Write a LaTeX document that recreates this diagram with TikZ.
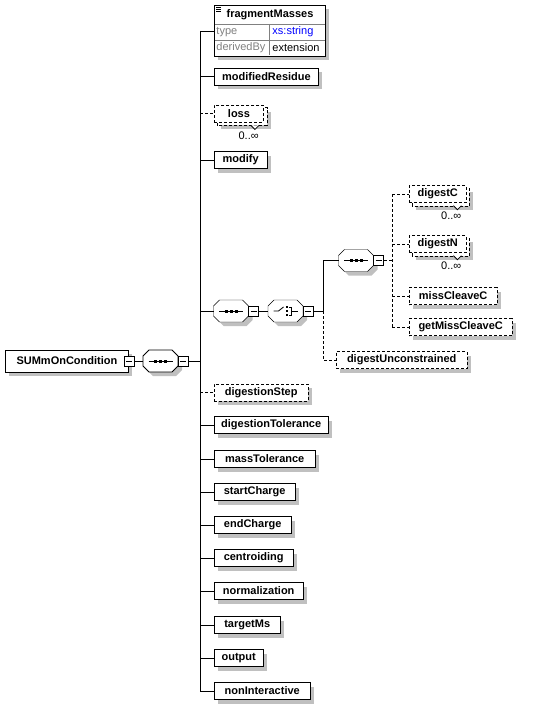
\documentclass[tikz,border=0pt]{standalone}
\usepackage{fontspec}
\setmainfont{Liberation Sans}
\usetikzlibrary{shadows,backgrounds,calc}
\definecolor{shadowgray}{RGB}{192,192,192}
\definecolor{labgray}{RGB}{128,128,128}
\newcommand\multdeco[1]{%
  \begin{pgfonlayer}{background}
    \fill[shadowgray] ($(#1.north west)+(7,7)$) rectangle ($(#1.south east)+(7,7)$);
    \draw[dsh,fill=white] ($(#1.north west)+(3,3)$) rectangle ($(#1.south east)+(3,3)$);
  \end{pgfonlayer}
  \draw[fill=white,line width=0.8pt] ($(#1.south east)+(-13,3)$) -- ++(4,4) -- ++(4,-4);
  \node[anchor=east,inner sep=0pt] (#1-n) at ($(#1.south east)+(-5,13)$) {0..∞};
}
\begin{document}
\begin{tikzpicture}[x=1pt,y=-1pt,line width=0.9pt,
  every node/.style={font=\fontsize{11}{13}\selectfont},
  dsh/.style={dash pattern=on 3pt off 2pt},
  shad/.style={drop shadow={shadow xshift=4pt,shadow yshift=-4pt,fill=shadowgray,opacity=1}},
  elem/.style={draw,fill=white,shad,anchor=west,minimum height=17pt,inner sep=0pt,
    font=\fontsize{11}{13}\selectfont\bfseries},
  opt/.style={elem,dsh},
  multi/.style={draw,fill=white,dsh,anchor=west,minimum height=17pt,inner sep=0pt,
    font=\fontsize{11}{13}\selectfont\bfseries},
  minus/.style={draw,fill=white,minimum size=10pt,inner sep=0pt,line width=0.8pt,
    path picture={\draw[line width=0.8pt] ([xshift=2pt]path picture bounding box.west) -- ([xshift=-2pt]path picture bounding box.east);}},
  seqcon/.pic={
    \fill[shadowgray,shift={(4,4)}] (-11.5,-11) -- (11.5,-11) -- (17.5,-5) -- (17.5,5) -- (11.5,11) -- (-11.5,11) -- (-17.5,5) -- (-17.5,-5) -- cycle;
    \draw[fill=white] (-11.5,-11) -- (11.5,-11) -- (17.5,-5) -- (17.5,5) -- (11.5,11) -- (-11.5,11) -- (-17.5,5) -- (-17.5,-5) -- cycle;
    \draw (-12,0) -- (12,0);
    \fill (-6.5,-1.5) rectangle (-3.5,1.5);
    \fill (-1.5,-1.5) rectangle (1.5,1.5);
    \fill (3.5,-1.5) rectangle (6.5,1.5);
    \coordinate (-w) at (-17.5,0);
    \node[minus] (-m) at (22.5,0) {};
  },
  choicecon/.pic={
    \fill[shadowgray,shift={(4,4)}] (-11.5,-11) -- (11.5,-11) -- (17.5,-5) -- (17.5,5) -- (11.5,11) -- (-11.5,11) -- (-17.5,5) -- (-17.5,-5) -- cycle;
    \draw[fill=white] (-11.5,-11) -- (11.5,-11) -- (17.5,-5) -- (17.5,5) -- (11.5,11) -- (-11.5,11) -- (-17.5,5) -- (-17.5,-5) -- cycle;
    \draw[line width=0.8pt] (-12,0) -- (-7,0) -- (-2,-4);
    \fill (0,-5) rectangle (2.5,-3);
    \fill (0,-1) rectangle (2.5,1);
    \fill (0,3) rectangle (2.5,5);
    \draw[line width=0.8pt] (3.5,-4) -- (6,-4) -- (6,4) -- (3.5,4) (6,0) -- (12,0);
    \coordinate (-w) at (-17.5,0);
    \node[minus] (-m) at (22.5,0) {};
  }
]
\useasboundingbox (0,0) rectangle (550,706);

% root
\node[elem,minimum width=123pt,minimum height=22pt] (sum) at (5,361) {SUMmOnCondition};
\node[minus] (sum-m) at (sum.east) {};
\pic (s1) at (160.5,361) {seqcon};
\coordinate (bus) at (200,361);

% fragmentMasses
\node[draw,fill=white,shad,minimum width=111pt,minimum height=51pt,inner sep=0pt,anchor=north west] (fm) at (214,5) {};
\draw[labgray,line width=0.8pt] (214.5,24) -- (324.5,24) (214.5,40) -- (324.5,40) (269,24) -- (269,55.5);
\draw[line width=0.6pt] (216,7) -- (221,7) (216,9) -- (221,9) (216,11) -- (221,11);
\node[font=\fontsize{11}{13}\selectfont\bfseries,inner sep=0pt] (fmt) at (270,15) {fragmentMasses};
\node[anchor=west,inner sep=1pt,text=labgray] (fty) at (215,32) {type};
\node[anchor=west,inner sep=1pt,text=blue] (ftv) at (271,32) {xs:string};
\node[anchor=west,inner sep=1pt,text=labgray] (fdb) at (215,48) {derivedBy};
\node[anchor=west,inner sep=1pt] (fdv) at (271,48) {extension};

% main children
\node[elem,minimum width=104pt] (mr) at (214,76.5) {modifiedResidue};
\node[multi,minimum width=49pt] (loss) at (214,113.5) {loss};
\multdeco{loss}
\node[elem,minimum width=53pt] (mo) at (214,160) {modify};
\pic (s2) at (231,311) {seqcon};
\pic (ch) at (285.5,311) {choicecon};
\node[opt,minimum width=94pt] (ds) at (214,392.5) {digestionStep};
\node[elem,minimum width=114pt] (dt) at (214,425) {digestionTolerance};
\node[elem,minimum width=101pt] (mt) at (214,459) {massTolerance};
\node[elem,minimum width=81pt] (sc) at (214,492) {startCharge};
\node[elem,minimum width=77pt] (ec) at (214,525) {endCharge};
\node[elem,minimum width=79pt] (ce) at (214,558) {centroiding};
\node[elem,minimum width=89pt] (no) at (214,591) {normalization};
\node[elem,minimum width=66pt] (tm) at (214,625) {targetMs};
\node[elem,minimum width=49pt] (ou) at (214,658) {output};
\node[elem,minimum width=96pt] (ni) at (214,691) {nonInteractive};

% choice children
\pic (s3) at (356,260.5) {seqcon};
\node[opt,minimum width=131pt] (du) at (336,360) {digestUnconstrained};
\node[multi,minimum width=57pt] (dc) at (409,194) {digestC};
\multdeco{dc}
\node[multi,minimum width=57pt] (dn) at (409,244) {digestN};
\multdeco{dn}
\node[opt,minimum width=88pt] (mc) at (409,296) {missCleaveC};
\node[opt,minimum width=103pt] (gm) at (409,327) {getMissCleaveC};

% connectors: root
\draw (sum-m.east) -- (s1-w);
\draw (s1-m.east) -- (bus);
\draw (bus |- fm.west) -- (bus |- ni.west);
\draw (bus |- fm.west) -- (fm.west);
\draw (bus |- mr.west) -- (mr.west);
\draw[dsh] (bus |- loss.west) -- (loss.west);
\draw (bus |- mo.west) -- (mo.west);
\draw (bus |- s2-w) -- (s2-w);
\draw[dsh] (bus |- ds.west) -- (ds.west);
\draw (bus |- dt.west) -- (dt.west);
\draw (bus |- mt.west) -- (mt.west);
\draw (bus |- sc.west) -- (sc.west);
\draw (bus |- ec.west) -- (ec.west);
\draw (bus |- ce.west) -- (ce.west);
\draw (bus |- no.west) -- (no.west);
\draw (bus |- tm.west) -- (tm.west);
\draw (bus |- ou.west) -- (ou.west);
\draw (bus |- ni.west) -- (ni.west);

% connectors: sequence / choice
\draw (s2-m.east) -- (ch-w);
\coordinate (cb) at (323,311);
\draw (ch-m.east) -- (cb);
\draw (cb |- s3-w) -- (cb);
\draw (cb |- s3-w) -- (s3-w);
\draw[dsh] (cb) -- (cb |- du.west) -- (du.west);

% connectors: inner sequence
\coordinate (sb) at (392,260.5);
\draw[dsh] (s3-m.east) -- (sb);
\draw[dsh] (sb |- dc.west) -- (sb |- gm.west);
\draw[dsh] (sb |- dc.west) -- (dc.west);
\draw[dsh] (sb |- dn.west) -- (dn.west);
\draw[dsh] (sb |- mc.west) -- (mc.west);
\draw[dsh] (sb |- gm.west) -- (gm.west);
\end{tikzpicture}
\end{document}
